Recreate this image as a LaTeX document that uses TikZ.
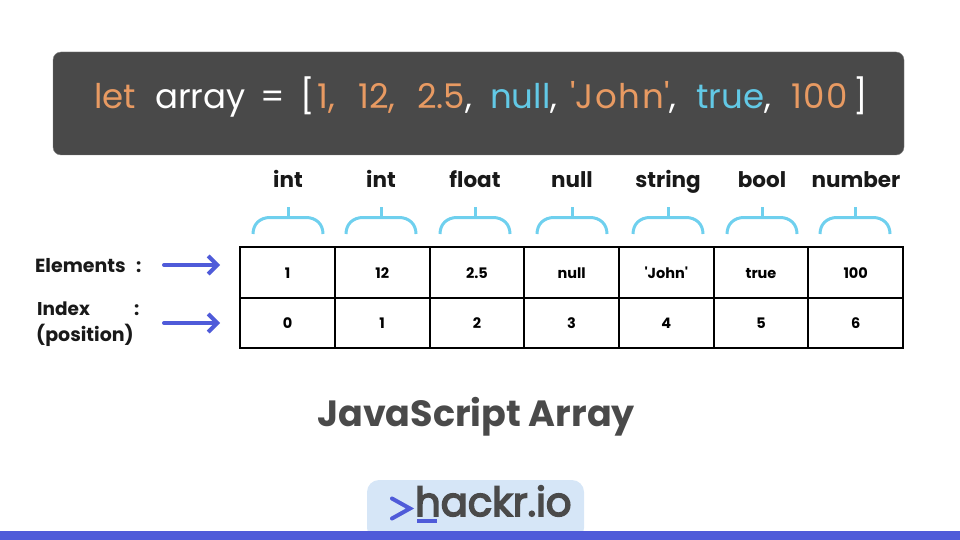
\documentclass[tikz,border=0pt]{standalone}
\usepackage{fontspec}
\setmainfont{Poppins}
\newfontfamily\logofont{Poppins}[FakeBold=4]
\usepackage{tikz}
\usetikzlibrary{arrows.meta,positioning}
\definecolor{codebg}{HTML}{494949}
\definecolor{codeorange}{HTML}{E89A62}
\definecolor{codeblue}{HTML}{62C9E6}
\definecolor{bracecol}{HTML}{6FD0EE}
\definecolor{arrowcol}{HTML}{4F5BD9}
\definecolor{logobg}{HTML}{D6E6F7}
\definecolor{logotext}{HTML}{4A4A4A}

\begin{document}
\begin{tikzpicture}[
  x=1pt, y=-1pt,
  cell/.style={draw=black, line width=2pt, minimum width=94.7pt, minimum height=50.5pt, inner sep=0pt, text height=12pt, text depth=1pt, font=\fontsize{14.5}{16}\selectfont\bfseries},
  typelabel/.style={anchor=base, inner sep=0pt, font=\fontsize{21.5}{24}\selectfont\bfseries, text=black!90},
  sidelabel/.style={inner sep=0pt, anchor=base west, font=\fontsize{18.5}{20}\selectfont\bfseries, text=black!90},
  codetoken/.style={anchor=base west, inner sep=0pt, font=\fontsize{34}{36}\selectfont, text=white},
  typebrace/.style={draw=bracecol, line width=3pt},
  rowarrow/.style={draw=arrowcol, line width=4pt, line cap=round, -{Straight Barb[length=9pt,width=18pt,line width=4pt]}}
]
\useasboundingbox (0,0) rectangle (960,540);

% Code line
\node[draw=gray, fill=codebg, rounded corners=8pt, minimum width=851pt, minimum height=103pt, inner sep=0pt] (codebox) at (478.5,103.5) {};
\foreach \name/\xpos/\token in {
  let/94/{\textcolor{codeorange}{let}},
  arr/155/{array},
  eq/260/{=},
  open/300/{[},
  one/317/{\textcolor{codeorange}{1,}},
  two/358/{\textcolor{codeorange}{12,}},
  three/417/{\textcolor{codeorange}{2.5},},
  four/490/{\textcolor{codeblue}{null},},
  five/570/{\textcolor{codeorange}{\addfontfeature{LetterSpace=5}\textquotesingle John\textquotesingle},},
  six/696/{\textcolor{codeblue}{true},},
  seven/791/{\textcolor{codeorange}{\addfontfeature{LetterSpace=5}100}},
  close/853/{]}} {
  \node[codetoken] (code\name) at (\xpos,109) {\token};
}

% Table cells
\foreach \name/\xpos/\elem/\idx in {a/287.5/1/0, b/382.2/12/1, c/476.9/2.5/2, d/571.6/null/3, e/666.3/\textquotesingle John\textquotesingle/4, f/761/true/5, g/855.7/100/6} {
  \node[cell] (elem\name) at (\xpos,272.5) {\elem};
  \node[cell] (idx\name) at (\xpos,323) {\idx};
}

% Type labels
\node[typelabel] (typea) at (288,187) {int};
\node[typelabel] (typeb) at (381,187) {int};
\node[typelabel] (typec) at (475,187) {float};
\node[typelabel] (typed) at (572,187) {null};
\node[typelabel] (typee) at (668,187) {string};
\node[typelabel] (typef) at (762,187) {bool};
\node[typelabel] (typeg) at (856,187) {number};

% Braces
\foreach \xpos in {288,381,475,572,668,762,855} {
  \draw[typebrace] (\xpos-35,234) .. controls (\xpos-35,224) and (\xpos-28,217.5) .. (\xpos-18,217.5) -- (\xpos+18,217.5) .. controls (\xpos+28,217.5) and (\xpos+35,224) .. (\xpos+35,234);
  \draw[typebrace] (\xpos,217.5) -- (\xpos,207);
}

% Row labels
\node[sidelabel, font=\fontsize{19}{20}\selectfont\bfseries] (elemlabel) at (35,272) {Elements};
\node[sidelabel] (elemcolon) at (136,272) {:};
\node[sidelabel] (idxlabel) at (37,315) {Index};
\node[sidelabel] (idxcolon) at (134,315) {:};
\node[sidelabel, font=\fontsize{19}{20}\selectfont\bfseries] (poslabel) at (36,341) {(position)};

\coordinate (elemstart) at (164,265);
\coordinate (elemend) at (220,265);
\coordinate (idxstart) at (164,323);
\coordinate (idxend) at (220,323);
\draw[rowarrow] (elemstart) -- (elemend);
\draw[rowarrow] (idxstart) -- (idxend);

% Title
\node[inner sep=0pt, font=\fontsize{36.5}{40}\selectfont\bfseries, text=logotext] (title) at (476,417) {JavaScript Array};

% Logo
\fill[logobg, rounded corners=12pt] (367,540) rectangle (584,480);
\fill[arrowcol] (0,531) rectangle (960,540);
\node[anchor=base west, inner sep=0pt, font=\fontsize{40}{44}\logofont, text=logotext] (logo) at (415,516) {hackr.io};
\draw[arrowcol, line width=4pt, line cap=round] (392,498.5) -- (410,508.5) -- (392,518.5);
\fill[arrowcol] (417,519) rectangle (437,523);
\end{tikzpicture}
\end{document}
